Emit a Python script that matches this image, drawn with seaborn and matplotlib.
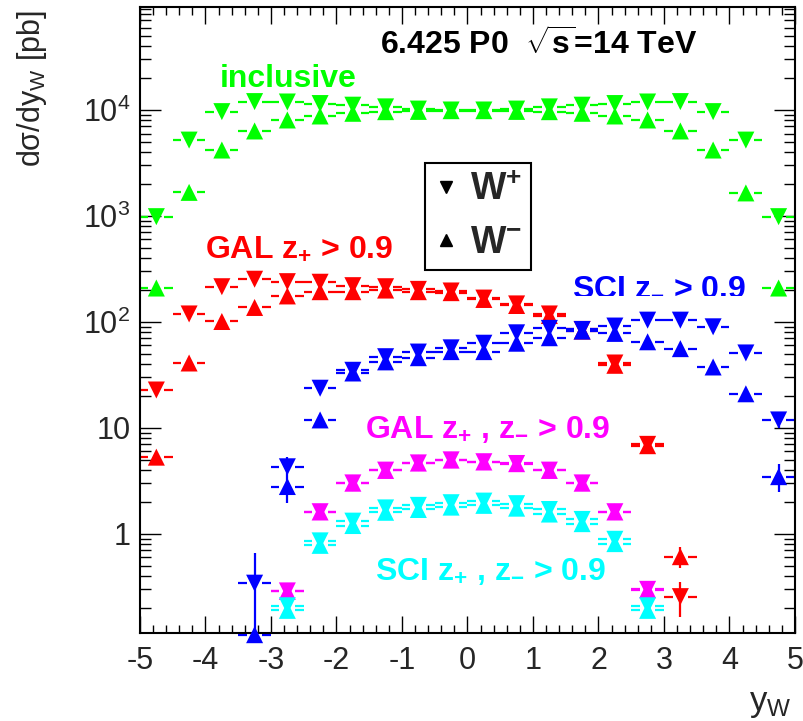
import numpy as np
import pandas as pd
import matplotlib
matplotlib.use("Agg")
import matplotlib.pyplot as plt
import seaborn as sns
from matplotlib.ticker import LogLocator, FuncFormatter, NullFormatter, MultipleLocator
from matplotlib.lines import Line2D

nan = np.nan

# bin centres of y_W (bins 0.5 wide)
yw = [-4.75, -4.25, -3.75, -3.25, -2.75, -2.25, -1.75, -1.25, -0.75, -0.25,
      0.25, 0.75, 1.25, 1.75, 2.25, 2.75, 3.25, 3.75, 4.25, 4.75]

# inclusive
incl_wp = [985, 5200, 9650, 12000, 11900, 11500, 11100, 10700, 10200, 10000,
           10000, 10200, 10700, 11100, 11500, 11900, 12000, 9650, 5200, 985]
incl_wm = [209, 1670, 4190, 6340, 8050, 8780, 9310, 9640, 9700, 9850,
           9850, 9700, 9640, 9310, 8780, 8050, 6340, 4190, 1650, 209]

# GAL z+ > 0.9
gal_wp = [22.8, 119, 215, 253, 240, 237, 220, 215, 203, 196,
          168, 148, 119, 85, 41, 7.0, 0.256, nan, nan, nan]
gal_wm = [5.3, 41, 101, 137, 176, 193, 193, 200, 193, 189,
          163, 143, 115, 82, 39, 6.8, 0.61, nan, nan, nan]

# SCI z- > 0.9
sci_wp = [nan, nan, nan, 0.343, 4.3, 23.7, 35, 47, 52, 57,
          63, 79, 87, 85, 91.5, 104, 104, 90, 51, 11.9]
sci_wm = [nan, nan, nan, 0.112, 2.8, 11.9, 33, 42, 46, 52.5,
          52.5, 63, 71, 82, 78, 65, 56, 37.6, 21, 3.47]

# GAL z+, z- > 0.9
gg_wp = [nan, nan, nan, nan, 0.29, 1.62, 3.03, 4.0, 4.68, 5.0,
         4.8, 4.62, 4.0, 3.03, 1.62, 0.30, nan, nan, nan, nan]
gg_wm = [nan, nan, nan, nan, 0.287, 1.61, 3.01, 3.97, 4.66, 4.97,
         4.77, 4.6, 3.97, 3.01, 1.61, 0.297, nan, nan, nan, nan]

# SCI z+, z- > 0.9
ss_wp = [nan, nan, nan, nan, 0.21, 0.86, 1.32, 1.76, 1.86, 1.97,
         2.04, 1.93, 1.70, 1.37, 0.89, 0.21, nan, nan, nan, nan]
ss_wm = [nan, nan, nan, nan, 0.19, 0.78, 1.20, 1.60, 1.70, 1.79,
         1.86, 1.75, 1.54, 1.25, 0.81, 0.19, nan, nan, nan, nan]

# the few vertical error bars that stick out of the markers
bar_x = [-3.25, -2.75, -2.75, 3.25, 3.25, 4.75, 4.75]
bar_lo = [0.10, 3.5, 1.95, 0.166, 0.475, 2.5, 10.0]
bar_hi = [0.66, 5.3, 3.5, 0.355, 0.76, 4.6, 14.0]
bar_col = ["#0000ff", "#0000ff", "#0000ff", "#ff0000", "#ff0000", "#0000ff", "#0000ff"]

series = [
    ("inclusive", "#00ff00", incl_wp, incl_wm),
    ("gal", "#ff0000", gal_wp, gal_wm),
    ("sci", "#0000ff", sci_wp, sci_wm),
    ("galgal", "#ff00ff", gg_wp, gg_wm),
    ("scisci", "#00ffff", ss_wp, ss_wm),
]

rows = []
for name, col, wp, wm in series:
    for x, a, b in zip(yw, wp, wm):
        rows.append((name, "W+", x, a))
        rows.append((name, "W-", x, b))
df = pd.DataFrame(rows, columns=["sel", "charge", "yw", "val"]).dropna()

sns.set_style("ticks")
plt.rcParams["font.family"] = ["Liberation Sans", "DejaVu Sans"]
plt.rcParams["axes.unicode_minus"] = False
plt.rcParams["mathtext.fontset"] = "custom"
plt.rcParams["mathtext.rm"] = "Liberation Sans"
plt.rcParams["mathtext.bf"] = "Liberation Sans:bold"
plt.rcParams["mathtext.it"] = "Liberation Sans:italic"
plt.rcParams["mathtext.default"] = "bf"

fig = plt.figure(figsize=(8.04, 7.21), dpi=100)
ax = fig.add_axes([0.1741, 0.1214, 0.8147, 0.8682])

# horizontal bin-width bars with a gap around the marker (ROOT style)
for name, col, wp, wm in series:
    for vals in (wp, wm):
        x = np.array(yw)
        v = np.array(vals, dtype=float)
        m = ~np.isnan(v)
        ax.hlines(v[m], x[m] - 0.25, x[m] - 0.12, color=col, lw=1.6, zorder=2, clip_on=False)
        ax.hlines(v[m], x[m] + 0.12, x[m] + 0.25, color=col, lw=1.6, zorder=2, clip_on=False)

ax.vlines(bar_x, bar_lo, bar_hi, colors=bar_col, lw=1.6, zorder=2)

pal = {name: col for name, col, _, _ in series}
sns.scatterplot(data=df, x="yw", y="val", hue="sel", style="charge",
                markers={"W+": "v", "W-": "^"}, palette=pal, s=150,
                linewidth=0, legend=False, ax=ax, clip_on=False, zorder=3)

ax.set_yscale("log")
ax.set_xlim(-5, 5)
ax.set_ylim(0.115, 9.27e4)
ax.set_xlabel("")
ax.set_ylabel("")

ax.xaxis.set_major_locator(MultipleLocator(1))
ax.xaxis.set_minor_locator(MultipleLocator(0.2))
ax.yaxis.set_major_locator(LogLocator(base=10, numticks=20))
ax.yaxis.set_minor_locator(LogLocator(base=10, subs=np.arange(2, 10), numticks=20))
ax.yaxis.set_minor_formatter(NullFormatter())


def fmt(v, pos):
    e = int(round(np.log10(v)))
    if e == 0:
        return "1"
    if e == 1:
        return "10"
    return r"$\mathrm{10^{%d}}$" % e


ax.yaxis.set_major_formatter(FuncFormatter(fmt))

ax.tick_params(which="both", direction="in", top=True, right=True,
               labelsize=22, width=1, color="black")
ax.tick_params(axis="x", which="major", length=12, pad=9)
ax.tick_params(axis="x", which="minor", length=6)
ax.tick_params(axis="y", which="major", length=15, pad=7)
ax.tick_params(axis="y", which="minor", length=8)
for sp in ax.spines.values():
    sp.set_linewidth(1.5)
    sp.set_color("black")

# legend
handles = [Line2D([], [], marker="v", color="black", ls="none", markersize=9),
           Line2D([], [], marker="^", color="black", ls="none", markersize=9)]
leg = ax.legend(handles, ["W$^{+}$", "W$^{-}$"], loc="upper left",
                bbox_to_anchor=(0.435, 0.752), borderaxespad=0, frameon=True,
                fancybox=False, edgecolor="black", framealpha=1,
                handlelength=0.6, handletextpad=0.35, borderpad=0.25,
                labelspacing=0.45, prop={"weight": "bold", "size": 27})
leg.get_frame().set_linewidth(1.5)

# annotations
ax.text(-1.34, 33000, r"6.425 P0  $\sqrt{s}$=14 TeV", fontsize=23,
        fontweight="bold", color="black", va="baseline")
ax.text(-3.78, 16600, "inclusive", fontsize=23, fontweight="bold",
        color="#00ff00", va="baseline")
ax.text(-4.0, 413, "GAL z$_{+}$ > 0.9", fontsize=23, fontweight="bold",
        color="#ff0000", va="baseline")
ax.text(1.59, 187, "SCI z$_{-}$ > 0.9", fontsize=23, fontweight="bold",
        color="#0000ff", va="baseline")
ax.text(-1.57, 8.0, "GAL z$_{+}$ , z$_{-}$ > 0.9", fontsize=23,
        fontweight="bold", color="#ff00ff", va="baseline")
ax.text(-1.41, 0.368, "SCI z$_{+}$ , z$_{-}$ > 0.9", fontsize=23,
        fontweight="bold", color="#00ffff", va="baseline")

fig.text(32 / 804, 1 - 10 / 721, r"d$\mathrm{\sigma}$/dy$_{\mathrm{W}}$ [pb]",
         rotation=90, ha="center", va="top", fontsize=22)
fig.text(792 / 804, 1 / 721, r"y$_{\mathrm{W}}$", ha="right", va="bottom",
         fontsize=25)

fig.savefig("out.png", dpi=100)
